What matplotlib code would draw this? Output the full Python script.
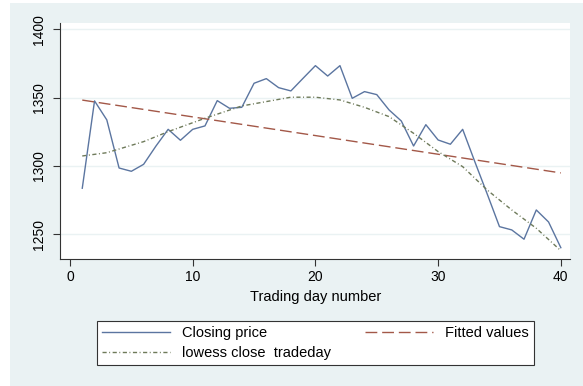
import matplotlib
matplotlib.use("Agg")
import matplotlib.pyplot as plt
from matplotlib.patches import Rectangle

plt.rcParams['font.family'] = ['Liberation Sans', 'DejaVu Sans']

days = list(range(1, 41))
close = [1283.7, 1347.6, 1333.7, 1298.5, 1296.1, 1301.2, 1314.5, 1326.8, 1318.8, 1326.8,
         1329.3, 1347.8, 1342.2, 1342.9, 1360.5, 1363.9, 1357.3, 1354.9, 1364.2, 1373.4,
         1365.8, 1373.4, 1349.5, 1354.4, 1352.2, 1341.0, 1332.9, 1314.6, 1330.2, 1319.0,
         1315.9, 1326.8, 1302.9, 1279.5, 1255.6, 1253.2, 1246.4, 1267.8, 1259.0, 1240.2]

fit_days = [1, 40]
fit_vals = [1348.2, 1294.9]

lowess_days = [1, 3, 6, 8, 11, 14, 18, 20, 22, 24, 26, 28, 30, 32, 34, 36, 38, 40]
lowess_vals = [1307.3, 1309.7, 1317.8, 1325.1, 1334.9, 1343.9, 1350.3, 1350.3, 1348.3,
               1342.9, 1336.1, 1323.9, 1310.5, 1299.5, 1282.4, 1267.8, 1254.4, 1238.0]

xticks = [0, 10, 20, 30, 40]
yticks = [1250, 1300, 1350, 1400]

bg = '#eaf2f3'
c_close = '#5b75a0'
c_fit = '#a35848'
c_low = '#6e7a5a'

W, H = 583, 386
fig = plt.figure(figsize=(W / 100, H / 100), dpi=100, facecolor='white')
fig.patches.append(Rectangle((10 / W, 0), 1 - 10 / W, 1 - 3 / H, transform=fig.transFigure,
                             facecolor=bg, edgecolor='none', zorder=-10))

ax = fig.add_axes([60.3 / W, 1 - 259.3 / H, (570.4 - 60.3) / W, (259.3 - 23) / H])
ax.set_facecolor('white')

ax.set_xlim(-0.79, 40.78)
ax.set_ylim(1231.7, 1404.6)

for y in yticks:
    ax.axhline(y, color=bg, lw=1.0, zorder=0)

l1, = ax.plot(days, close, color=c_close, lw=1.0, label='Closing price')
l2, = ax.plot(fit_days, fit_vals, color=c_fit, lw=1.0, linestyle=(0, (8.5, 3.5)),
              label='Fitted values')
l3, = ax.plot(lowess_days, lowess_vals, color=c_low, lw=1.0,
              linestyle=(0, (3.0, 1.8, 0.7, 1.8)), label='lowess close  tradeday')

for s in ['top', 'right']:
    ax.spines[s].set_visible(False)
for s in ['left', 'bottom']:
    ax.spines[s].set_color('#333333')
    ax.spines[s].set_linewidth(0.8)

ax.set_xticks(xticks)
ax.set_yticks(yticks)
ax.set_yticklabels([str(v) for v in yticks], rotation=90, va='center')
ax.tick_params(axis='both', direction='out', length=5, width=0.8, color='#333333',
               labelsize=10, pad=3)
ax.tick_params(axis='y', pad=5)
ax.set_xlabel('Trading day number', fontsize=10.5, labelpad=4)

leg = fig.legend(handles=[l1, l3, l2], ncol=2,
                 bbox_to_anchor=(96.7 / W, 1 - 369.3 / H, (534 - 96.7) / W, (369.3 - 316.7) / H),
                 loc='center', mode='expand', fancybox=False, frameon=True,
                 edgecolor='#333333', facecolor='white', framealpha=1,
                 fontsize=10.5, handlelength=4.7, handletextpad=0.8,
                 borderaxespad=0, labelspacing=0.45, borderpad=0.35)
leg.get_frame().set_linewidth(0.8)

fig.savefig('out.png', dpi=100, facecolor='white')
